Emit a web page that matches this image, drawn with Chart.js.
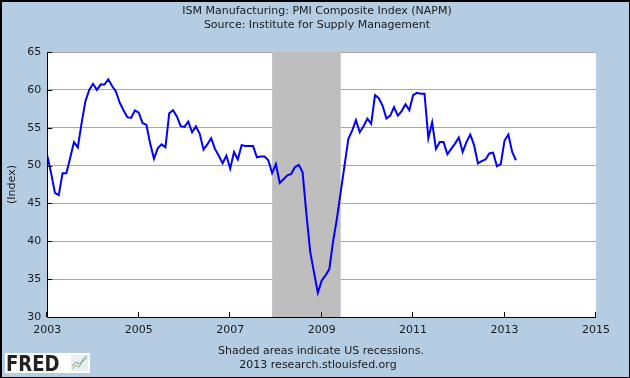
<!DOCTYPE html>
<html><head><meta charset="utf-8">
<script src="https://cdn.jsdelivr.net/npm/chart.js@4"></script>
<style>
html,body{margin:0;padding:0;background:#b4cde3;}
canvas{display:block;}
</style>
</head><body>
<canvas id="c" width="630" height="378"></canvas>
<script>
// ---- data ----
const titleLines = ['ISM Manufacturing: PMI Composite Index (NAPM)', 'Source: Institute for Supply Management'];
const footerLines = ['Shaded areas indicate US recessions.', '2013 research.stlouisfed.org'];
const yAxisTitle = '(Index)';
const startYear = 2003;            // series starts January 2003, monthly
const pmi = [
  51.3, 49.0, 46.4, 46.1, 49.0, 49.0, 51.0, 53.1, 52.4, 55.6, 58.5, 60.0,
  60.8, 60.0, 60.7, 60.7, 61.4, 60.5, 59.8, 58.3, 57.3, 56.4, 56.3, 57.3,
  57.0, 55.6, 55.4, 52.9, 50.9, 52.3, 52.8, 52.4, 56.9, 57.3, 56.5, 55.2,
  55.1, 55.8, 54.4, 55.2, 54.2, 52.1, 52.8, 53.6, 52.2, 51.3, 50.3, 51.3,
  49.6, 51.8, 50.8, 52.7, 52.6, 52.6, 52.6, 51.1, 51.2, 51.2, 50.7, 49.0,
  50.2, 47.7, 48.2, 48.7, 48.9, 49.8, 50.1, 49.1, 43.6, 38.6, 35.9, 33.2,
  34.8, 35.5, 36.3, 40.0, 43.0, 46.5, 50.0, 53.5, 54.6, 56.0, 54.4, 55.2,
  56.2, 55.5, 59.3, 58.9, 57.9, 56.2, 56.6, 57.7, 56.6, 57.2, 58.1, 57.3,
  59.3, 59.6, 59.5, 59.5, 53.6, 55.7, 52.2, 53.1, 53.1, 51.5, 52.2, 52.9,
  53.7, 51.8, 53.1, 54.1, 52.7, 50.3, 50.6, 50.8, 51.6, 51.7, 49.9, 50.2,
  53.3, 54.1, 51.8, 50.7
];
const xTicks = [2003, 2005, 2007, 2009, 2011, 2013, 2015];
const yTicks = [30, 35, 40, 45, 50, 55, 60, 65];
const recessionStartYM = [2007, 12];
const recessionEndYM = [2009, 6];

// ---- build ----
const points = pmi.map((v, i) => ({ x: startYear + i / 12, y: v }));
const ymToX = ym => ym[0] + (ym[1] - 1) / 12;
const FONT = 'DejaVu Sans';
const TXT = '#1a1a1a';

const decor = {
  id: 'decor',
  beforeDraw(chart) {
    const { ctx, chartArea: a } = chart;
    ctx.save();
    ctx.fillStyle = '#b4cde3';
    ctx.fillRect(0, 0, chart.width, chart.height);
    ctx.fillStyle = '#ffffff';
    ctx.fillRect(a.left, a.top, a.right - a.left, a.bottom - a.top);
    ctx.restore();
  },
  beforeDatasetsDraw(chart) {
    const { ctx, chartArea: a, scales: { x } } = chart;
    const x0 = x.getPixelForValue(ymToX(recessionStartYM));
    const x1 = x.getPixelForValue(ymToX(recessionEndYM));
    ctx.save();
    ctx.fillStyle = '#bebebe';
    ctx.fillRect(x0, a.top, x1 - x0, a.bottom - a.top);
    ctx.restore();
  },
  afterDraw(chart) {
    const { ctx, chartArea: a, scales: { x, y } } = chart;
    ctx.save();
    // axes lines + inner tick marks
    ctx.strokeStyle = '#000';
    ctx.lineWidth = 1;
    ctx.beginPath();
    ctx.moveTo(Math.round(a.left) + 0.5, a.top);
    ctx.lineTo(Math.round(a.left) + 0.5, Math.round(a.bottom) + 0.5);
    ctx.lineTo(a.right, Math.round(a.bottom) + 0.5);
    yTicks.forEach(v => {
      const py = Math.round(y.getPixelForValue(v)) + 0.5;
      ctx.moveTo(a.left, py); ctx.lineTo(a.left + 5, py);
    });
    xTicks.forEach(v => {
      const px = Math.round(x.getPixelForValue(v)) - 0.5;
      ctx.moveTo(px, a.bottom); ctx.lineTo(px, a.bottom - 5);
    });
    ctx.stroke();

    // titles
    ctx.fillStyle = TXT;
    ctx.textAlign = 'center';
    ctx.textBaseline = 'middle';
    ctx.font = '11px "' + FONT + '"';
    ctx.fillText(titleLines[0], 317, 11);
    ctx.fillText(titleLines[1], 317, 25);
    ctx.fillText(footerLines[0], 321, 351);
    ctx.fillText(footerLines[1], 318, 365);

    // FRED logo
    ctx.fillStyle = '#ffffff';
    ctx.fillRect(5, 353, 85, 20);
    ctx.fillStyle = '#222';
    ctx.textAlign = 'left';
    ctx.textBaseline = 'alphabetic';
    ctx.font = 'bold 21px "DejaVu Sans"';
    ctx.save();
    ctx.translate(6, 371);
    ctx.scale(0.86, 1);
    ctx.fillText('FRED', 0, 0);
    ctx.restore();
    ctx.fillStyle = '#e8eef2';
    ctx.fillRect(71, 355, 17, 16);
    ctx.lineWidth = 1;
    ctx.strokeStyle = '#8fb96a';
    ctx.beginPath();
    ctx.moveTo(72, 369); ctx.lineTo(76, 365); ctx.lineTo(79, 367); ctx.lineTo(83, 361); ctx.lineTo(87, 358);
    ctx.stroke();
    ctx.strokeStyle = '#7a9cc0';
    ctx.beginPath();
    ctx.moveTo(72, 366); ctx.lineTo(76, 362); ctx.lineTo(80, 364); ctx.lineTo(84, 358); ctx.lineTo(87, 356);
    ctx.stroke();

    // outer border
    ctx.fillStyle = '#000';
    ctx.fillRect(0, 0, chart.width, 2);
    ctx.fillRect(0, 0, 2, chart.height);
    ctx.fillRect(chart.width - 1, 0, 1, chart.height);
    ctx.fillRect(0, chart.height - 1, chart.width, 1);
    ctx.restore();
  }
};

new Chart(document.getElementById('c'), {
  type: 'line',
  data: {
    datasets: [{
      data: points,
      borderColor: '#0000ff',
      borderWidth: 2,
      pointRadius: 0,
      tension: 0,
      fill: false
    }]
  },
  options: {
    responsive: false,
    animation: false,
    devicePixelRatio: 1,
    layout: { padding: { top: 52, right: 34, bottom: 0, left: 0 } },
    plugins: { legend: { display: false }, tooltip: { enabled: false }, title: { display: false } },
    scales: {
      x: {
        type: 'linear',
        min: 2003, max: 2015,
        afterBuildTicks: s => { s.ticks = xTicks.map(v => ({ value: v })); },
        afterFit: s => { s.height = 61; },
        grid: { display: false, drawTicks: false },
        border: { display: false },
        ticks: {
          autoSkip: false, maxRotation: 0, padding: 7,
          color: TXT, font: { family: FONT, size: 11 },
          callback: v => String(v)
        }
      },
      y: {
        min: 30, max: 65,
        afterBuildTicks: s => { s.ticks = yTicks.map(v => ({ value: v })); },
        afterFit: s => { s.width = 47.3; },
        grid: { color: '#a9a9a9', lineWidth: 1, drawTicks: false },
        border: { display: false },
        title: {
          display: true, text: yAxisTitle, color: TXT,
          font: { family: FONT, size: 11 }, padding: { top: 6, bottom: 0 }
        },
        ticks: {
          padding: 6, color: TXT, font: { family: FONT, size: 11 },
          callback: v => String(v)
        }
      }
    }
  },
  plugins: [decor]
});
</script>
</body></html>
